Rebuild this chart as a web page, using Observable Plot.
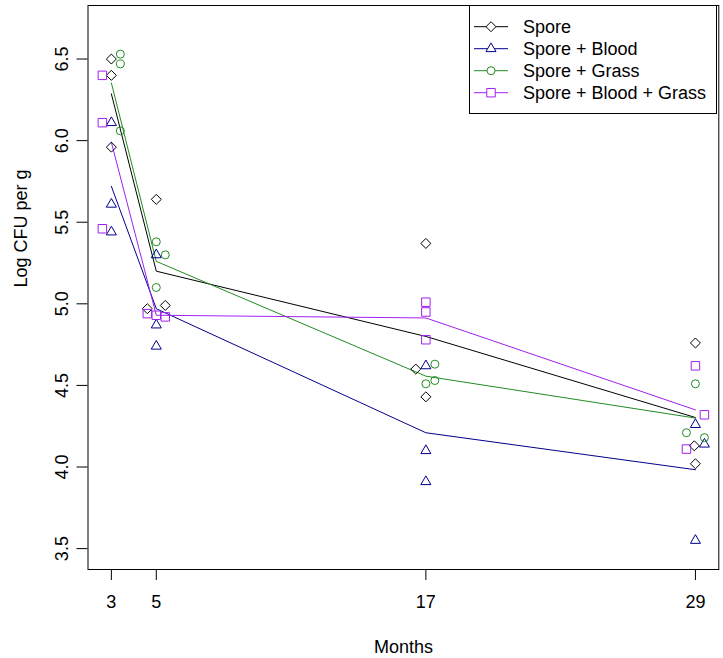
<!DOCTYPE html>
<html>
<head>
<meta charset="utf-8">
<script src="https://cdn.jsdelivr.net/npm/d3@7"></script>
<script src="https://cdn.jsdelivr.net/npm/@observablehq/plot@0.6"></script>
<style>
  html, body { margin: 0; padding: 0; background: white; }
  #wrap { position: relative; width: 723px; height: 658px; font-family: "Liberation Sans", Arial, Helvetica, sans-serif; }
  #legend { position: absolute; left: 469px; top: 5px; }
</style>
</head>
<body>
<div id="wrap"></div>
<script>
// ---- data ----
const groups = ["Spore", "Spore + Blood", "Spore + Grass", "Spore + Blood + Grass"];
const colors = ["#000000", "#00008B", "#228B22", "#A020F0"];
const symbols = ["diamond2", "triangle2", "circle", "square2"];
const monthTicks = [3, 5, 17, 29];
const yTicks = [3.5, 4.0, 4.5, 5.0, 5.5, 6.0, 6.5];

// nominal sampling month of each replicate
const sampleMonth = [3, 3, 3, 5, 5, 5, 17, 17, 17, 29, 29, 29];

// jittered month positions and values (Log CFU per g)
const sporeX = [3, 3, 3, 5, 4.6, 5.4, 17, 16.55, 17, 29, 28.95, 29];
const sporeY = [6.50, 6.40, 5.96, 5.64, 4.97, 4.99, 5.37, 4.60, 4.43, 4.76, 4.13, 4.02];

const bloodX = [3, 3, 3, 5, 5, 5, 17, 17, 17, 29, 29.4, 29];
const bloodY = [6.11, 5.61, 5.44, 5.30, 4.87, 4.74, 4.62, 4.10, 3.91, 4.26, 4.14, 3.55];

const grassX = [3.4, 3.4, 3.4, 5, 5.4, 5, 17.4, 17, 17.4, 29, 28.6, 29.4];
const grassY = [6.53, 6.47, 6.06, 5.38, 5.30, 5.10, 4.63, 4.51, 4.53, 4.51, 4.21, 4.18];

const bgX = [2.6, 2.6, 2.6, 4.6, 5, 5.4, 17, 17, 17, 29, 29.4, 28.6];
const bgY = [6.40, 6.11, 5.46, 4.94, 4.93, 4.92, 5.01, 4.95, 4.78, 4.62, 4.32, 4.11];

const seriesX = [sporeX, bloodX, grassX, bgX];
const seriesY = [sporeY, bloodY, grassY, bgY];
const dotR = [4.5, 4.8, 4, 5.4];

// ---- build table ----
const rows = [];
groups.forEach((g, gi) => {
  seriesY[gi].forEach((v, i) => {
    rows.push({group: g, month: sampleMonth[i], xj: seriesX[gi][i], value: v});
  });
});

const font = "Liberation Sans, Arial, Helvetica, sans-serif";

const dotMarks = groups.map((g, gi) =>
  Plot.dot(rows.filter(d => d.group === g), {
    x: "xj", y: "value", symbol: symbols[gi], r: dotR[gi],
    stroke: colors[gi], fill: "none", strokeWidth: 1
  })
);

const chart = Plot.plot({
  width: 723,
  height: 658,
  marginLeft: 87.5,
  marginRight: 4.7,
  marginTop: 5,
  marginBottom: 89,
  x: {domain: [1.96, 30.04]},
  y: {domain: [3.372, 6.828]},
  color: {domain: groups, range: colors},
  style: {fontFamily: font, fontSize: "18px", background: "white", color: "black", overflow: "visible"},
  marks: [
    Plot.frame({stroke: "black", strokeWidth: 1}),
    Plot.axisX({ticks: monthTicks, tickFormat: d => String(d), tickSize: 11, tickPadding: 15, label: null, fontSize: 18}),
    Plot.axisY({ticks: yTicks, tickFormat: d3.format(".1f"), tickSize: 11, tickPadding: 9, tickRotate: -90, label: null, fontSize: 18}),
    Plot.text(["Months"], {frameAnchor: "bottom", dy: 83, fontSize: 18}),
    Plot.text(["Log CFU per g"], {frameAnchor: "left", dx: -67, rotate: -90, fontSize: 18}),
    Plot.lineY(rows, Plot.groupX({y: "mean"}, {x: "month", y: "value", stroke: "group", z: "group", strokeWidth: 1})),
    ...dotMarks
  ]
});

const wrap = document.getElementById("wrap");
wrap.appendChild(chart);

// ---- legend ----
const lw = 248, lh = 109;
const legend = d3.select(wrap).append("svg")
  .attr("id", "legend")
  .attr("width", lw).attr("height", lh)
  .style("font-family", font).style("font-size", "18px");
legend.append("rect").attr("x", 0.5).attr("y", 0.5).attr("width", lw - 1).attr("height", lh - 1)
  .attr("fill", "white").attr("stroke", "black");
const symMap = {diamond2: d3.symbolDiamond2, triangle2: d3.symbolTriangle2, circle: d3.symbolCircle, square2: d3.symbolSquare2};
groups.forEach((g, gi) => {
  const cy = 21.7 + gi * 22;
  const row = legend.append("g");
  row.append("line").attr("x1", 5).attr("x2", 39).attr("y1", cy).attr("y2", cy)
    .attr("stroke", colors[gi]).attr("stroke-width", 1);
  row.append("path")
    .attr("transform", `translate(22,${cy})`)
    .attr("d", d3.symbol(symMap[symbols[gi]], Math.PI * dotR[gi] * dotR[gi])())
    .attr("fill", "white").attr("stroke", colors[gi]);
  row.append("text").attr("x", 54).attr("y", cy).attr("dy", "0.35em").text(g);
});
</script>
</body>
</html>
